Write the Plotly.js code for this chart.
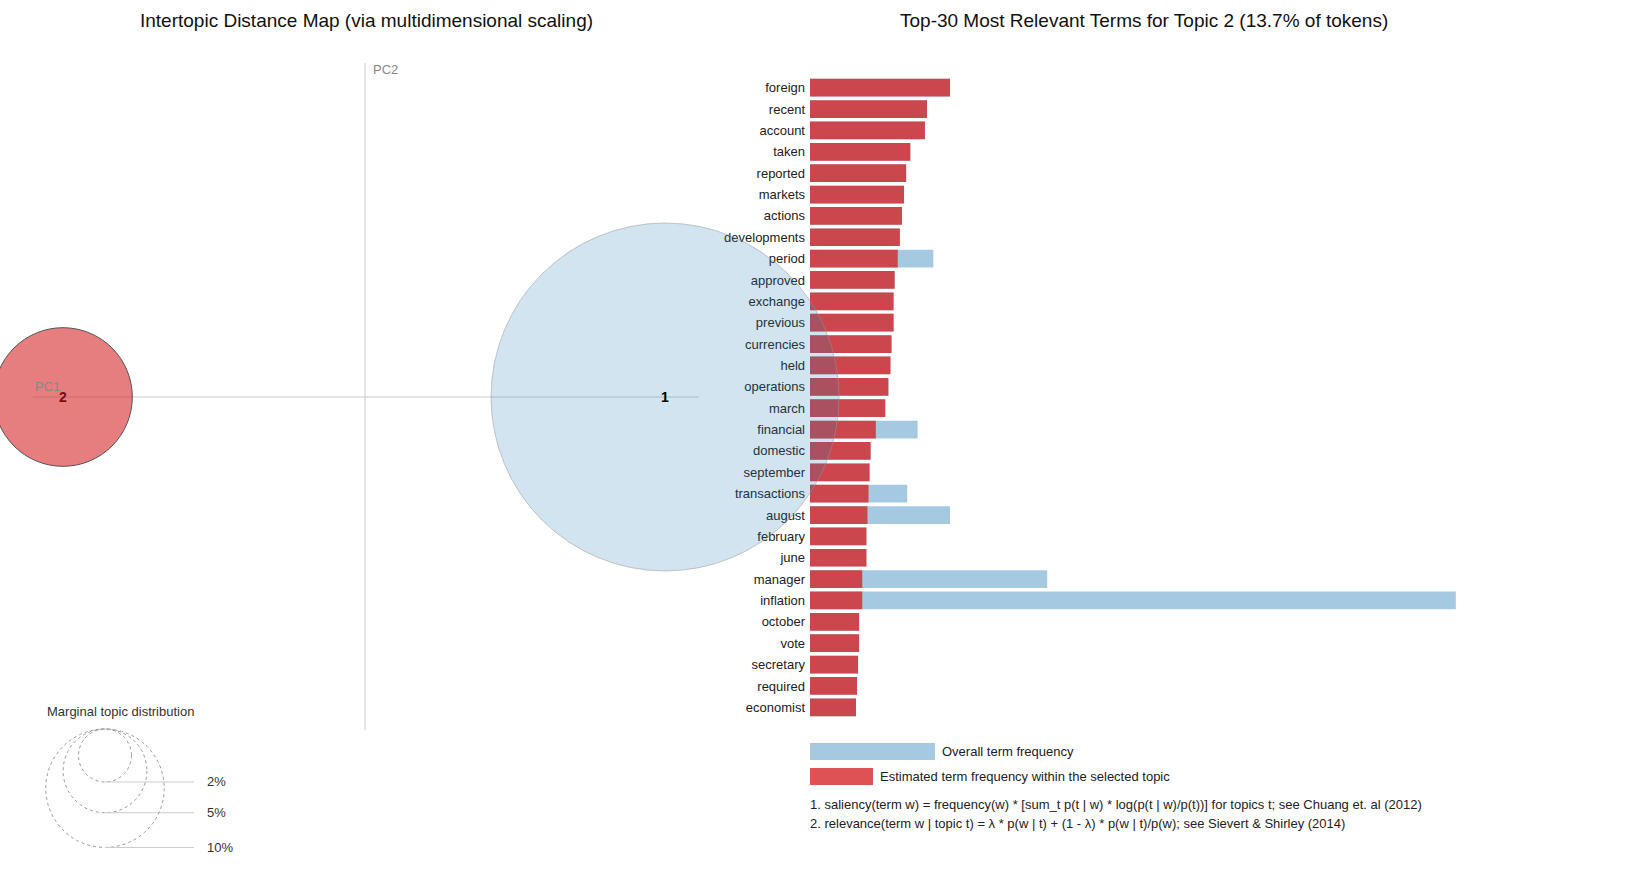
<!DOCTYPE html>
<html><head><meta charset="utf-8">
<script src="https://cdn.plot.ly/plotly-3.0.1.min.js"></script>
<style>html,body{margin:0;background:#fff}#chart{width:1637px;height:889px}</style>
</head><body><div id="chart"></div>
<script>
// --- Data ---
const TERMS = ['foreign','recent','account','taken','reported','markets','actions','developments','period','approved',
  'exchange','previous','currencies','held','operations','march','financial','domestic','september','transactions',
  'august','february','june','manager','inflation','october','vote','secretary','required','economist'];
const TOPIC_FREQ = [134,112,110,96,92,90,88,86,84,81,80,80,78,77,75,72,63,58,57,56,55,54,54,50,50,47,47,46,45,44];
const OVERALL_FREQ = [134,112,110,96,92,90,88,86,118,81,80,80,78,77,75,72,103,58,57,93,134,54,54,227,618,47,47,46,45,44];
const TOPIC_IDS = ['1', '2'];
const TOPIC_PC1 = [0.15, -0.151];
const TOPIC_PC2 = [0, 0];
const TOPIC_PCT = [86.3, 13.7];
const LEGEND_PCT = [2, 5, 10];

// --- Geometry (pixels) ---
const W = 1637, H = 889;
const PX = 2000;           // pixels per MDS unit
const ORIGIN_X = 365, ORIGIN_Y = 397;
const R_MAX = 174;         // radius of largest topic
const rad = p => R_MAX * Math.sqrt(p / Math.max(...TOPIC_PCT)) / PX;
const dx = px => (px - ORIGIN_X) / PX;
const dy = py => (ORIGIN_Y - py) / PX;

const shapes = [];
// axes lines
shapes.push({type:'line', xref:'x2', yref:'y2', x0:dx(33), x1:dx(699), y0:0, y1:0, line:{color:'#ccc', width:1}, layer:'below'});
shapes.push({type:'line', xref:'x2', yref:'y2', x0:0, x1:0, y0:dy(63), y1:dy(730), line:{color:'#ccc', width:1}, layer:'below'});
// topic circles
const TOPIC_FILL = ['rgba(31,119,180,0.2)', 'rgba(214,39,40,0.6)'];
const TOPIC_LINE = ['rgba(150,150,150,0.5)', '#555'];
TOPIC_IDS.forEach((t, i) => {
  const r = rad(TOPIC_PCT[i]);
  shapes.push({type:'circle', xref:'x2', yref:'y2', layer:'below',
    x0:TOPIC_PC1[i]-r, x1:TOPIC_PC1[i]+r, y0:TOPIC_PC2[i]-r, y1:TOPIC_PC2[i]+r,
    fillcolor:TOPIC_FILL[i], line:{color:TOPIC_LINE[i], width:1}});
});
// marginal distribution legend
const legX = dx(105), legTop = dy(729);
const annotations = [];
LEGEND_PCT.forEach(p => {
  const r = rad(p);
  shapes.push({type:'circle', xref:'x2', yref:'y2', x0:legX-r, x1:legX+r, y0:legTop-2*r, y1:legTop,
    line:{color:'#999', width:1, dash:'dot'}});
  shapes.push({type:'line', xref:'x2', yref:'y2', x0:legX, x1:dx(194), y0:legTop-2*r, y1:legTop-2*r,
    line:{color:'#ccc', width:1}});
  annotations.push({xref:'x2', yref:'y2', x:dx(205), y:legTop-2*r, text:p+'%', showarrow:false,
    xanchor:'left', yanchor:'middle', font:{size:13, color:'#333'}});
});
annotations.push({xref:'x2', yref:'y2', x:dx(45), y:dy(711), text:'Marginal topic distribution', showarrow:false,
  xanchor:'left', yanchor:'middle', font:{size:13, color:'#333'}});
annotations.push({xref:'x2', yref:'y2', x:dx(33), y:dy(386), text:'PC1', showarrow:false,
  xanchor:'left', yanchor:'middle', font:{size:13, color:'#888'}});
annotations.push({xref:'x2', yref:'y2', x:dx(371), y:dy(69), text:'PC2', showarrow:false,
  xanchor:'left', yanchor:'middle', font:{size:13, color:'#888'}});
TOPIC_IDS.forEach((t, i) => {
  annotations.push({xref:'x2', yref:'y2', x:TOPIC_PC1[i], y:TOPIC_PC2[i], text:'<b>'+t+'</b>', showarrow:false,
    xanchor:'center', yanchor:'middle', font:{size:14, color: i === 1 ? '#7a0c10' : '#000'}});
});
// titles
annotations.push({xref:'paper', yref:'paper', x:366/W, y:1-21/H, text:'Intertopic Distance Map (via multidimensional scaling)',
  showarrow:false, xanchor:'center', yanchor:'middle', font:{size:19, color:'#111'}});
annotations.push({xref:'paper', yref:'paper', x:1144/W, y:1-21/H, text:'Top-30 Most Relevant Terms for Topic 2 (13.7% of tokens)',
  showarrow:false, xanchor:'center', yanchor:'middle', font:{size:19, color:'#111'}});
// bar legend
const BAR_X0 = 810, UNIT = 1.045;
shapes.push({type:'rect', xref:'paper', yref:'paper', x0:BAR_X0/W, x1:935/W, y0:1-760/H, y1:1-743/H,
  fillcolor:'rgba(31,119,180,0.4)', line:{width:0}});
shapes.push({type:'rect', xref:'paper', yref:'paper', x0:BAR_X0/W, x1:873/W, y0:1-785/H, y1:1-768/H,
  fillcolor:'rgba(214,39,40,0.8)', line:{width:0}});
[['Overall term frequency', 940, 751], ['Estimated term frequency within the selected topic', 878, 776],
 ['1. saliency(term w) = frequency(w) * [sum_t p(t | w) * log(p(t | w)/p(t))] for topics t; see Chuang et. al (2012)', 808, 804],
 ['2. relevance(term w | topic t) = \u03bb * p(w | t) + (1 - \u03bb) * p(w | t)/p(w); see Sievert &amp; Shirley (2014)', 808, 823]
].forEach(a => annotations.push({xref:'paper', yref:'paper', x:a[1]/W, y:1-a[2]/H, text:a[0], showarrow:false,
  xanchor:'left', yanchor:'middle', font:{size:13, color:'#222'}}));

const traces = [
  {type:'bar', orientation:'h', y:TERMS, x:OVERALL_FREQ, xaxis:'x', yaxis:'y',
   marker:{color:'rgba(31,119,180,0.4)'}, hoverinfo:'x+y'},
  {type:'bar', orientation:'h', y:TERMS, x:TOPIC_FREQ, xaxis:'x', yaxis:'y',
   marker:{color:'rgba(214,39,40,0.8)'}, hoverinfo:'x+y'}
];

const layout = {
  width: W, height: H,
  margin:{l:0, r:0, t:0, b:0},
  paper_bgcolor:'#fff', plot_bgcolor:'rgba(0,0,0,0)',
  showlegend:false, barmode:'overlay', bargap:0.17,
  font:{family:'Arial, Liberation Sans, sans-serif', color:'#333'},
  xaxis:{domain:[BAR_X0/W, 1], range:[0, (W-BAR_X0)/UNIT], visible:false, fixedrange:true},
  yaxis:{domain:[1-718/H, 1-77/H], range:[TERMS.length-0.5, -0.5], type:'category',
    showline:false, showgrid:false, ticks:'', tickfont:{size:13, color:'#222'}, ticklabelstandoff:4, automargin:false},
  xaxis2:{domain:[0,1], range:[-ORIGIN_X/PX, (W-ORIGIN_X)/PX], visible:false, anchor:'y2'},
  yaxis2:{domain:[0,1], range:[-(H-ORIGIN_Y)/PX, ORIGIN_Y/PX], visible:false, anchor:'x2'},
  shapes: shapes, annotations: annotations
};

Plotly.newPlot('chart', traces, layout, {displayModeBar:false});
</script></body></html>
